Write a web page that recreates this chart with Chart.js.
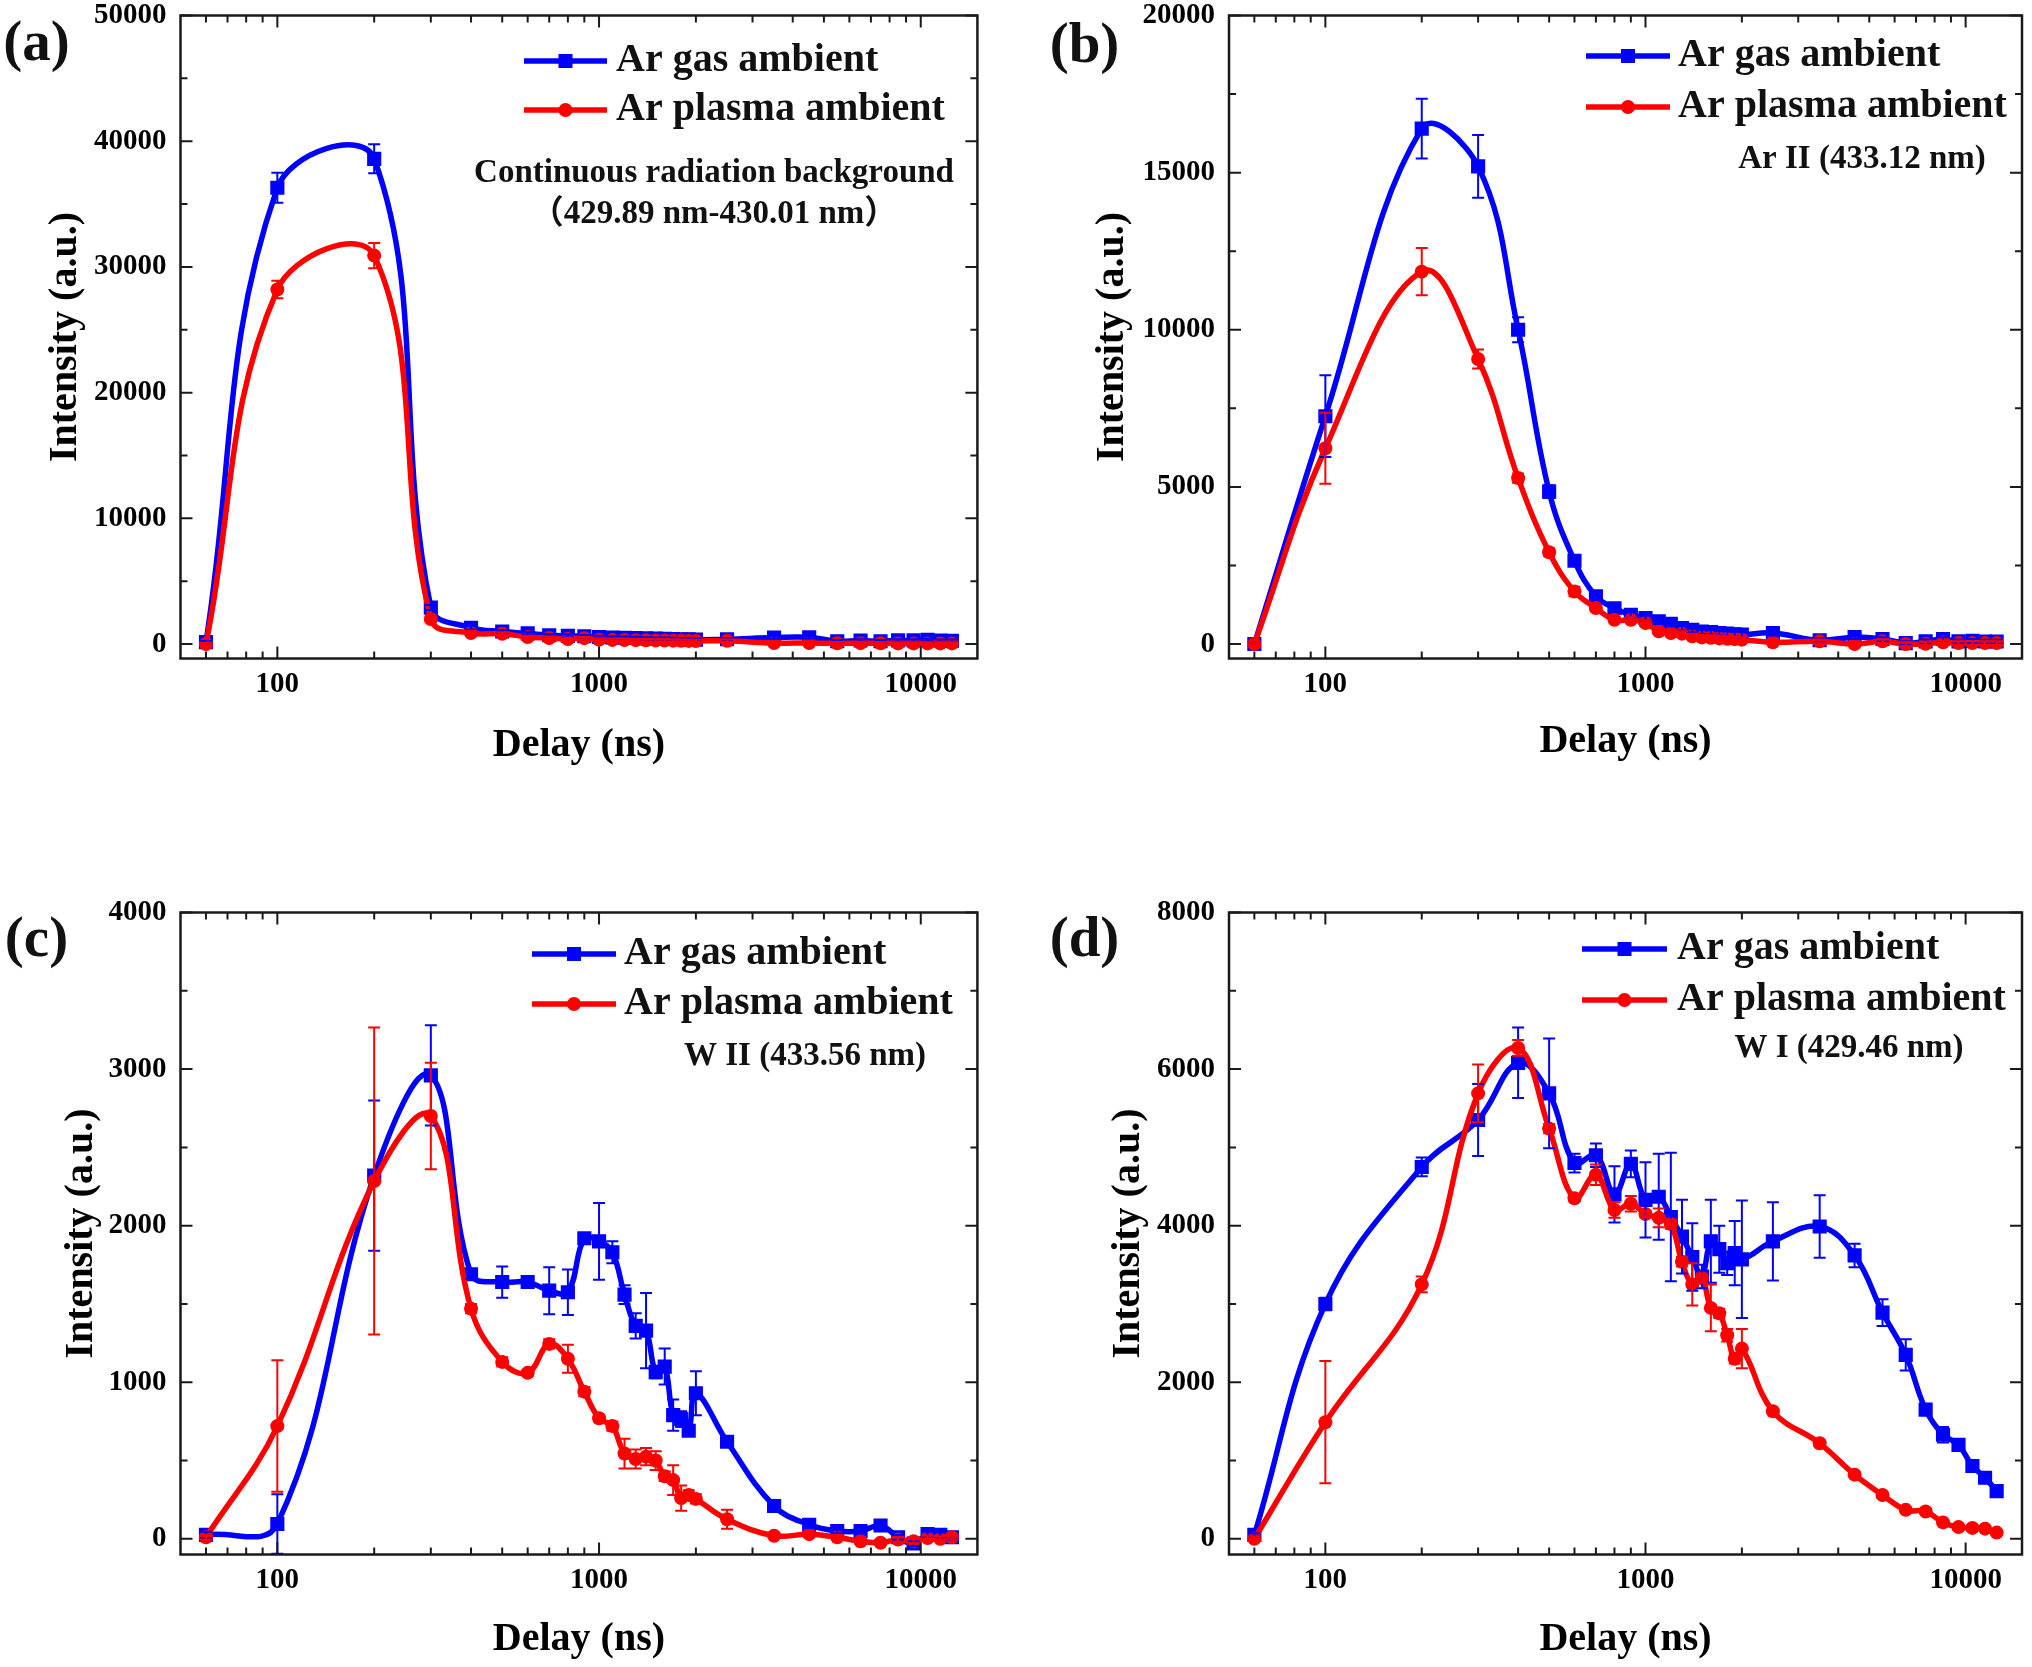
<!DOCTYPE html>
<html>
<head>
<meta charset="utf-8">
<title>Intensity vs delay</title>
<script src="https://cdn.jsdelivr.net/npm/chart.js@4.4.1/dist/chart.umd.min.js"></script>
<style>
  body { margin: 0; background: #fff; width: 2032px; height: 1667px; position: relative; overflow: hidden; }
  .panel { position: absolute; }
</style>
</head>
<body>
<div class="panel" id="boxA"><canvas id="chartA"></canvas></div>
<div class="panel" id="boxB"><canvas id="chartB"></canvas></div>
<div class="panel" id="boxC"><canvas id="chartC"></canvas></div>
<div class="panel" id="boxD"><canvas id="chartD"></canvas></div>
<script>
// ---- data ----
const delays = [60, 100, 200, 300, 400, 500, 600, 700, 800, 900, 1000, 1100, 1200, 1300, 1400, 1500,
  1600, 1700, 1800, 1900, 2000, 2500, 3500, 4500, 5500, 6500, 7500, 8500, 9500, 10500, 11500, 12500];

const seriesNames = ['Ar gas ambient', 'Ar plasma ambient'];

// (a) continuous radiation background
const gasA = [150, 36300, 38600, 2900, 1300, 1000, 850, 700, 650, 620, 560, 520, 500, 480, 450, 430,
  420, 400, 380, 370, 350, 380, 520, 540, 220, 280, 220, 290, 290, 330, 270, 260];
const gasErrA = [100, 1200, 1150, 200, 150, 100, 100, 100, 100, 100, 100, 100, 100, 100, 100, 100,
  100, 100, 100, 100, 100, 100, 100, 100, 100, 100, 100, 100, 100, 100, 100, 100];
const plasmaA = [0, 28200, 30900, 1990, 880, 820, 560, 480, 400, 470, 350, 330, 320, 310, 300, 290,
  280, 270, 260, 250, 240, 260, 80, 80, 60, 70, 60, 50, 50, 50, 50, 50];
const plasmaErrA = [100, 700, 1000, 200, 150, 100, 100, 100, 100, 100, 100, 100, 100, 100, 100, 100,
  100, 100, 100, 100, 100, 100, 100, 100, 100, 100, 100, 100, 100, 100, 100, 100];

// (b) Ar II 433.12 nm
const gasB = [0, 7250, 16400, 15200, 10000, 4850, 2650, 1520, 1140, 930, 830, 720, 640, 510, 455, 400,
  380, 350, 330, 310, 300, 350, 120, 220, 160, 30, 85, 160, 85, 100, 80, 80];
const gasErrB = [60, 1300, 950, 1000, 400, 200, 150, 100, 80, 80, 80, 80, 80, 80, 80, 80,
  80, 80, 80, 80, 80, 80, 60, 60, 60, 60, 60, 60, 60, 60, 60, 60];
const plasmaB = [0, 6230, 11850, 9070, 5280, 2920, 1670, 1145, 770, 770, 670, 405, 350, 330, 245, 212,
  200, 180, 170, 160, 140, 55, 85, 0, 85, 0, 10, 55, 30, 30, 30, 30];
const plasmaErrB = [60, 1130, 750, 300, 150, 120, 150, 100, 80, 80, 80, 80, 80, 80, 80, 80,
  80, 80, 80, 80, 80, 60, 60, 60, 60, 60, 60, 60, 60, 60, 60, 60];

// (c) W II 433.56 nm
const gasC = [25, 95, 2320, 2960, 1690, 1640, 1640, 1585, 1575, 1920, 1900, 1830, 1560, 1360, 1330, 1065,
  1100, 790, 765, 690, 930, 620, 210, 90, 50, 50, 85, 10, -30, 30, 25, 10];
const gasErrC = [20, 190, 480, 320, 30, 100, 30, 150, 145, 30, 245, 70, 60, 80, 240, 40,
  115, 100, 50, 30, 140, 30, 30, 20, 15, 15, 15, 15, 15, 15, 15, 15];
const plasmaC = [10, 720, 2285, 2700, 1470, 1130, 1060, 1245, 1150, 940, 770, 720, 545, 510, 525, 500,
  400, 375, 260, 280, 255, 125, 20, 30, 10, -15, -25, -5, -15, 5, 0, 10];
const plasmaErrC = [15, 420, 980, 340, 30, 30, 20, 30, 90, 30, 20, 30, 95, 60, 55, 60,
  30, 95, 80, 30, 30, 60, 15, 15, 15, 15, 15, 15, 15, 15, 15, 15];

// (d) W I 429.46 nm
const gasD = [50, 3000, 4750, 5350, 6080, 5690, 4800, 4900, 4400, 4790, 4330, 4370, 4110, 3860, 3600, 3350,
  3800, 3700, 3520, 3650, 3570, 3800, 3990, 3620, 2890, 2350, 1650, 1330, 1200, 930, 780, 610];
const gasErrD = [20, 80, 120, 460, 450, 700, 120, 150, 360, 170, 480, 550, 820, 470, 430, 150,
  530, 300, 150, 410, 750, 500, 400, 150, 170, 200, 60, 100, 40, 40, 30, 30];
const plasmaD = [0, 1490, 3250, 5690, 6270, 5240, 4350, 4650, 4200, 4280, 4150, 4100, 4020, 3540, 3250, 3330,
  2950, 2880, 2600, 2300, 2430, 1630, 1220, 820, 560, 370, 350, 210, 150, 140, 130, 80];
const plasmaErrD = [30, 780, 100, 370, 100, 60, 40, 130, 100, 100, 40, 120, 60, 60, 270, 60,
  300, 60, 80, 60, 250, 30, 40, 30, 30, 30, 30, 30, 30, 30, 30, 30];

// tick values
const xTicks = [100, 1000, 10000];
const xMinorTicks = [60, 70, 80, 90, 200, 300, 400, 500, 600, 700, 800, 900,
  2000, 3000, 4000, 5000, 6000, 7000, 8000, 9000];
const yTicksA = [0, 10000, 20000, 30000, 40000, 50000];
const yMinorA = [5000, 15000, 25000, 35000, 45000];
const yTicksB = [0, 5000, 10000, 15000, 20000];
const yMinorB = [2500, 7500, 12500, 17500];
const yTicksC = [0, 1000, 2000, 3000, 4000];
const yMinorC = [500, 1500, 2500, 3500];
const yTicksD = [0, 2000, 4000, 6000, 8000];
const yMinorD = [1000, 3000, 5000, 7000];

// ---- panels ----
const panels = [
  { id: 'chartA', label: '(a)', gas: gasA, gasErr: gasErrA, plasma: plasmaA, plasmaErr: plasmaErrA,
    yMin: -1150, yMax: 50000, yTicks: yTicksA, yMinor: yMinorA,
    notes: ['Continuous radiation background', '（429.89 nm-430.01 nm）'] },
  { id: 'chartB', label: '(b)', gas: gasB, gasErr: gasErrB, plasma: plasmaB, plasmaErr: plasmaErrB,
    yMin: -460, yMax: 20000, yTicks: yTicksB, yMinor: yMinorB,
    notes: ['Ar II (433.12 nm)'] },
  { id: 'chartC', label: '(c)', gas: gasC, gasErr: gasErrC, plasma: plasmaC, plasmaErr: plasmaErrC,
    yMin: -100, yMax: 4000, yTicks: yTicksC, yMinor: yMinorC,
    notes: ['W II (433.56 nm)'] },
  { id: 'chartD', label: '(d)', gas: gasD, gasErr: gasErrD, plasma: plasmaD, plasmaErr: plasmaErrD,
    yMin: -200, yMax: 8000, yTicks: yTicksD, yMinor: yMinorD,
    notes: ['W I (429.46 nm)'] },
];

// where each panel sits (canvas coordinates inside its box)
const layouts = {
  chartA: { box: 'boxA', left: 0, top: 0, w: 1016, h: 833, area: [180.5, 15.5, 977.4, 658.5],
    yTitleX: 66, xTitleY: 746, legend: { x1: 524, x2: 607, tx: 616, rows: [61, 110] },
    noteX: 714, noteY: [173.5, 214], labelX: 36.5, labelY: 45 },
  chartB: { box: 'boxB', left: 1016, top: 0, w: 1016, h: 833, area: [213, 15.5, 1013, 658.5],
    yTitleX: 96.5, xTitleY: 742, legend: { x1: 570, x2: 654, tx: 662, rows: [56, 107] },
    noteX: 846, noteY: [159], labelX: 68.5, labelY: 47 },
  chartC: { box: 'boxC', left: 0, top: 833, w: 1016, h: 834, area: [180.5, 79.5, 977.4, 721.5],
    yTitleX: 82, xTitleY: 807, legend: { x1: 532, x2: 616, tx: 624, rows: [121, 171] },
    noteX: 805, noteY: [223.5], labelX: 36.5, labelY: 108.5 },
  chartD: { box: 'boxD', left: 1016, top: 833, w: 1016, h: 834, area: [213, 79.5, 1013, 721.5],
    yTitleX: 113, xTitleY: 807, legend: { x1: 566, x2: 651, tx: 661, rows: [116, 167] },
    noteX: 833, noteY: [215], labelX: 68.5, labelY: 108.5 },
};

const SERIF = "'Liberation Serif', 'Times New Roman', 'Noto Sans CJK SC', serif";
const BLUE = '#0000ff';
const RED = '#ff0000';
const FRAME = '#1a1a1a';

function drawMarker(ctx, style, x, y) {
  if (style === 'rect') {
    ctx.fillRect(x - 7, y - 7, 14, 14);
  } else {
    ctx.beginPath();
    ctx.arc(x, y, 7, 0, Math.PI * 2);
    ctx.fill();
  }
}

// error bars with caps, drawn through the chart scales
const errorBarPlugin = {
  id: 'errorBars',
  afterDatasetsDraw(chart) {
    const { ctx, chartArea, scales: { x, y } } = chart;
    ctx.save();
    ctx.beginPath();
    ctx.rect(chartArea.left, chartArea.top, chartArea.right - chartArea.left, chartArea.bottom - chartArea.top);
    ctx.clip();
    ctx.lineWidth = 2;
    chart.data.datasets.forEach((ds) => {
      ctx.strokeStyle = ds.borderColor;
      ds.data.forEach((pt, i) => {
        const e = ds.errors[i];
        if (!e) return;
        const px = x.getPixelForValue(pt.x);
        const top = y.getPixelForValue(pt.y + e);
        const bot = y.getPixelForValue(pt.y - e);
        ctx.beginPath();
        ctx.moveTo(px, top); ctx.lineTo(px, bot);
        ctx.moveTo(px - 6, top); ctx.lineTo(px + 6, top);
        ctx.moveTo(px - 6, bot); ctx.lineTo(px + 6, bot);
        ctx.stroke();
      });
    });
    ctx.restore();
  }
};

// Origin style frame with inward ticks on all four sides, legend, notes and panel label
const decorPlugin = {
  id: 'decor',
  afterDraw(chart) {
    const { ctx, chartArea: a, scales: { x, y } } = chart;
    const p = chart.options.plugins.decor;
    const lay = layouts[chart.canvas.id];
    ctx.save();
    ctx.strokeStyle = FRAME;
    ctx.lineWidth = 2.5;
    ctx.strokeRect(a.left, a.top, a.right - a.left, a.bottom - a.top);

    ctx.lineWidth = 2;
    const tickX = (v, len) => {
      const px = x.getPixelForValue(v);
      ctx.beginPath();
      ctx.moveTo(px, a.bottom); ctx.lineTo(px, a.bottom - len);
      ctx.moveTo(px, a.top); ctx.lineTo(px, a.top + len);
      ctx.stroke();
    };
    const tickY = (v, len) => {
      const py = y.getPixelForValue(v);
      ctx.beginPath();
      ctx.moveTo(a.left, py); ctx.lineTo(a.left + len, py);
      ctx.moveTo(a.right, py); ctx.lineTo(a.right - len, py);
      ctx.stroke();
    };
    xTicks.forEach(v => tickX(v, 12));
    xMinorTicks.forEach(v => tickX(v, 7));
    p.yTicks.forEach(v => tickY(v, 12));
    p.yMinor.forEach(v => tickY(v, 7));

    // legend
    const lg = lay.legend;
    const styles = [['rect', BLUE], ['circle', RED]];
    ctx.font = 'bold 40px ' + SERIF;
    ctx.textBaseline = 'middle';
    ctx.textAlign = 'left';
    seriesNames.forEach((name, i) => {
      const ry = lg.rows[i];
      ctx.strokeStyle = styles[i][1];
      ctx.fillStyle = styles[i][1];
      ctx.lineWidth = 5.5;
      ctx.beginPath();
      ctx.moveTo(lg.x1, ry); ctx.lineTo(lg.x2, ry);
      ctx.stroke();
      drawMarker(ctx, styles[i][0], (lg.x1 + lg.x2) / 2, ry);
      ctx.fillStyle = '#111';
      ctx.fillText(name, lg.tx, ry);
    });

    // notes
    ctx.font = 'bold 33px ' + SERIF;
    ctx.textAlign = 'center';
    ctx.fillStyle = '#111';
    p.notes.forEach((t, i) => ctx.fillText(t, lay.noteX, lay.noteY[i]));

    // panel label
    ctx.font = 'bold 57px ' + SERIF;
    ctx.fillText(p.label, lay.labelX, lay.labelY);
    ctx.restore();
  }
};

function zeroPadding(scale) {
  scale.paddingTop = 0; scale.paddingBottom = 0;
  scale.paddingLeft = 0; scale.paddingRight = 0;
}

panels.forEach((p) => {
  const lay = layouts[p.id];
  const holder = document.getElementById(lay.box);
  holder.style.left = lay.left + 'px';
  holder.style.top = lay.top + 'px';
  holder.style.width = lay.w + 'px';
  holder.style.height = lay.h + 'px';
  const [al, at, ar, ab] = lay.area;
  const tickFont = { family: SERIF, size: 29, weight: 'bold', lineHeight: 1 };
  const titleFont = { family: SERIF, size: 40, weight: 'bold', lineHeight: 1.2 };

  const toPoints = (vals) => delays.map((d, i) => ({ x: d, y: vals[i] }));

  new Chart(document.getElementById(p.id), {
    type: 'line',
    data: {
      datasets: [
        { label: seriesNames[0], data: toPoints(p.gas), errors: p.gasErr,
          borderColor: BLUE, backgroundColor: BLUE, borderWidth: 5.5, tension: 0.4,
          pointStyle: 'rect', pointRadius: 10, pointBorderWidth: 0, order: 1 },
        { label: seriesNames[1], data: toPoints(p.plasma), errors: p.plasmaErr,
          borderColor: RED, backgroundColor: RED, borderWidth: 5.5, tension: 0.4,
          pointStyle: 'circle', pointRadius: 7, pointBorderWidth: 0, order: 0 },
      ]
    },
    options: {
      responsive: true,
      maintainAspectRatio: false,
      devicePixelRatio: 1,
      animation: false,
      events: [],
      layout: { padding: { left: 0, top: at, right: lay.w - ar, bottom: 0 } },
      scales: {
        x: {
          type: 'logarithmic',
          min: 50, max: 15000,
          grid: { display: false, drawTicks: false },
          border: { display: false },
          afterBuildTicks: (s) => { s.ticks = xTicks.map(v => ({ value: v })); },
          afterFit: (s) => { s.height = lay.h - ab; zeroPadding(s); },
          ticks: { font: tickFont, color: '#000', padding: 12, maxRotation: 0, autoSkip: false,
            callback: (v) => String(v) },
          title: { display: true, text: 'Delay (ns)', font: titleFont, color: '#000',
            padding: { top: 0, bottom: lay.h - lay.xTitleY - 24 } },
        },
        y: {
          type: 'linear',
          min: p.yMin, max: p.yMax,
          grid: { display: false, drawTicks: false },
          border: { display: false },
          afterBuildTicks: (s) => { s.ticks = p.yTicks.map(v => ({ value: v })); },
          afterFit: (s) => { s.width = al; zeroPadding(s); },
          ticks: { font: tickFont, color: '#000', padding: 14, autoSkip: false,
            callback: (v) => String(v) },
          title: { display: true, text: 'Intensity (a.u.)', font: titleFont, color: '#000',
            padding: { top: lay.yTitleX - 24, bottom: 0 } },
        }
      },
      plugins: {
        legend: { display: false },
        tooltip: { enabled: false },
        decor: { label: p.label, notes: p.notes, yTicks: p.yTicks, yMinor: p.yMinor },
      }
    },
    plugins: [errorBarPlugin, decorPlugin]
  });
});
</script>
</body>
</html>
